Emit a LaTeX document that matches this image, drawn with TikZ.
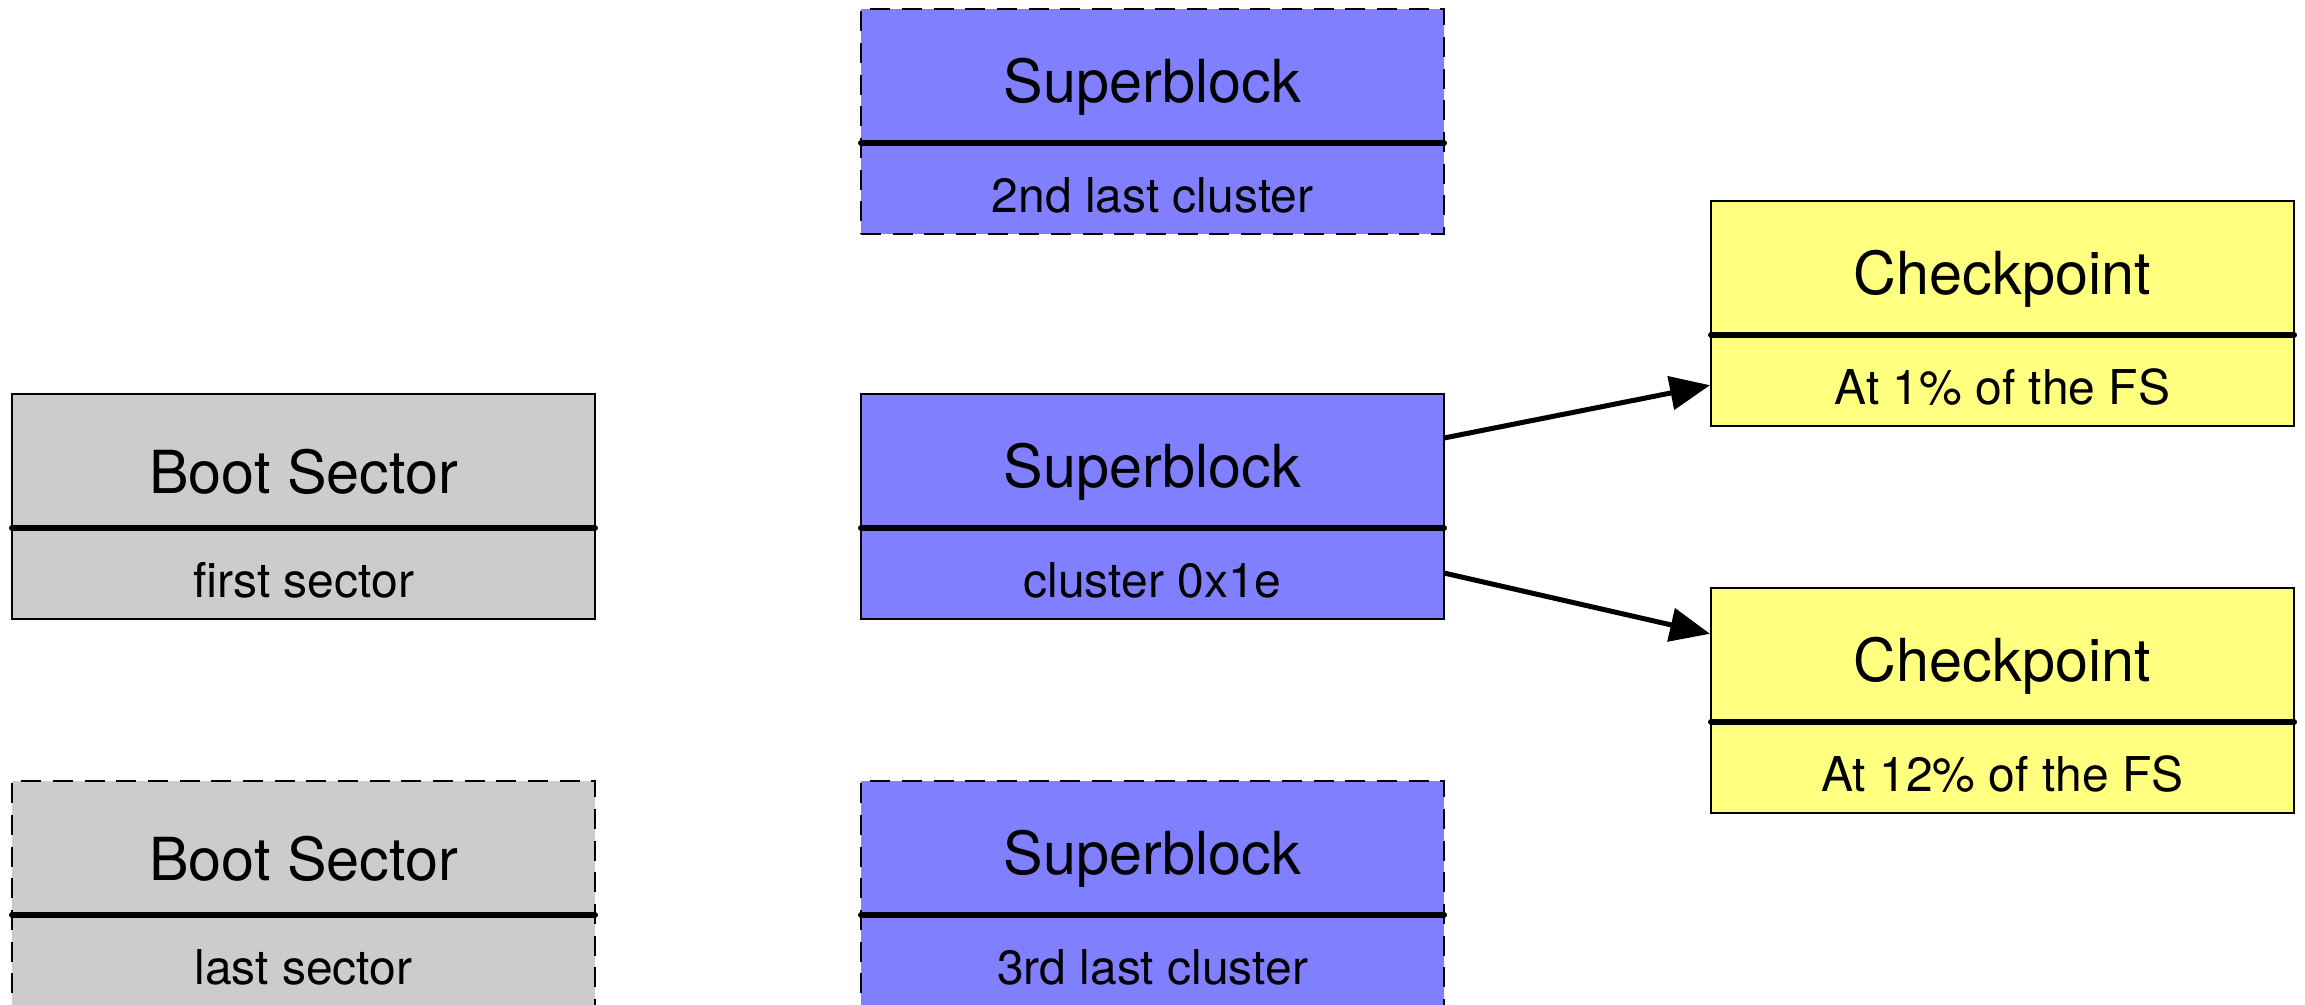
\documentclass[tikz,border=0pt]{standalone}
\usepackage{fontspec}
\setmainfont{TeX Gyre Heros}
\usetikzlibrary{arrows.meta}

\definecolor{bootgray}{HTML}{CCCCCC}
\definecolor{sbblue}{HTML}{8080FF}
\definecolor{cpyellow}{HTML}{FFFF80}

\tikzset{
  blockbox/.style={draw=black, line width=0.8pt, rectangle, anchor=north west,
    minimum width=174.9pt, minimum height=67.5pt, inner sep=0pt, outer sep=0pt},
  copybox/.style={dash pattern=on 6pt off 3.5pt},
  divider/.style={line width=1.8pt, line cap=round},
  titletext/.style={font=\fontsize{17.8}{21}\selectfont, inner sep=0pt},
  subtext/.style={font=\fontsize{14.4}{17}\selectfont, inner sep=0pt},
  link/.style={line width=1.5pt, -{Triangle[length=12pt,width=10pt]}, shorten >=0.3pt}
}

% \fsblock{name}{top-left corner}{box style}{title}{location}
\newcommand\fsblock[5]{%
  \node[blockbox, #3] (#1) at (#2) {};
  \draw[divider] ([yshift=-40.2pt]#1.north west) -- ([yshift=-40.2pt]#1.north east);
  \node[titletext] (#1-title) at ([yshift=-23.3pt]#1.north) {#4};
  \node[subtext] (#1-sub) at ([yshift=-55.8pt]#1.north) {#5};
}

\begin{document}
\begin{tikzpicture}[x=0.3pt, y=-0.3pt]
  \useasboundingbox (0,0) rectangle (2305,1004);

  % boot sectors
  \fsblock{bootA}{12,394}{fill=bootgray}{Boot Sector}{first sector}
  \fsblock{bootB}{12,781}{fill=bootgray, copybox}{Boot Sector}{last sector}

  % superblock and its backup copies
  \fsblock{sbTop}{861,9}{fill=sbblue, copybox}{Superblock}{2nd last cluster}
  \fsblock{sbMain}{861,394}{fill=sbblue}{Superblock}{cluster 0x1e}
  \fsblock{sbBot}{861,781}{fill=sbblue, copybox}{Superblock}{3rd last cluster}

  % checkpoints
  \fsblock{cpA}{1711,201}{fill=cpyellow}{Checkpoint}{At 1\% of the FS}
  \fsblock{cpB}{1711,588}{fill=cpyellow}{Checkpoint}{At 12\% of the FS}

  % superblock references to the checkpoints
  \draw[link] ([yshift=-13.2pt]sbMain.north east) -- ([yshift=-55.2pt]cpA.north west);
  \draw[link] ([yshift=-53.7pt]sbMain.north east) -- ([yshift=-13.8pt]cpB.north west);
\end{tikzpicture}
\end{document}
